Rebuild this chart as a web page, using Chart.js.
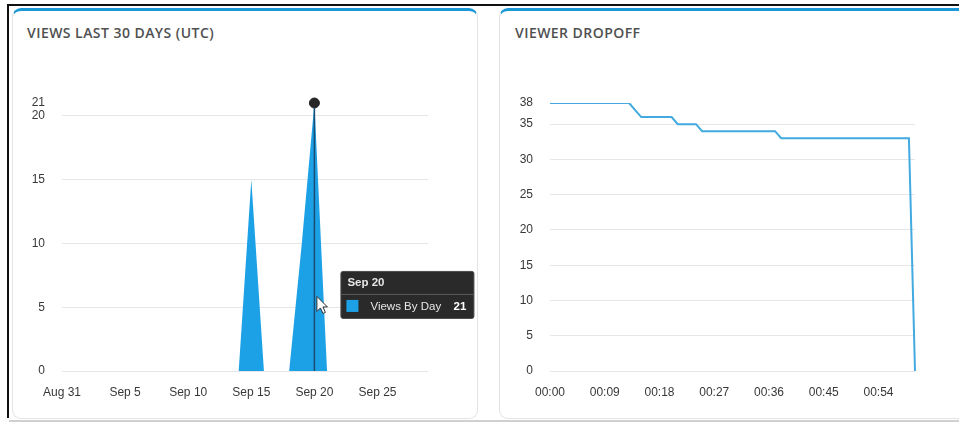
<!DOCTYPE html>
<html>
<head>
<meta charset="utf-8">
<title>Views dashboard</title>
<script src="https://cdn.jsdelivr.net/npm/chart.js@4.4.1/dist/chart.umd.min.js"></script>
<style>
  html, body { margin: 0; padding: 0; background: #fff; }
  body { width: 959px; height: 423px; position: relative; overflow: hidden; font-family: 'Open Sans', Roboto, sans-serif; }
  .frame-top { position: absolute; left: 8px; top: 4px; width: 951px; height: 2px; background: #111; }
  .frame-left { position: absolute; left: 7px; top: 4px; width: 2px; height: 414px; background: #111; }
  .frame-bottom { position: absolute; left: 9px; top: 420px; width: 950px; height: 2px; background: #d0d0d0; }
  .card { position: absolute; top: 8px; height: 411px; background: #fff; border: 1px solid #e3e3e3; border-top: 3px solid #1b98d5; border-radius: 9px; box-sizing: border-box; }
  .card h2 { position: absolute; top: 12px; margin: 0; font-size: 14px; font-weight: 600; letter-spacing: 0.45px; color: #505050; white-space: nowrap; }
  canvas { position: absolute; }
</style>
</head>
<body>
<div class="frame-top"></div>
<div class="frame-left"></div>
<div class="frame-bottom"></div>

<div class="card" style="left:12px; width:466px;"><h2 style="left:14px;">VIEWS LAST 30 DAYS (UTC)</h2></div>
<div class="card" style="left:499px; width:470px;"><h2 style="left:15px;">VIEWER DROPOFF</h2></div>

<canvas id="viewsChart" width="466" height="368" style="left:12px; top:50px;"></canvas>
<canvas id="dropoffChart" width="460" height="368" style="left:499px; top:50px;"></canvas>

<script>
// views per day, Aug 31 - Sep 29
const days = [
  'Aug 31', 'Sep 1', 'Sep 2', 'Sep 3', 'Sep 4', 'Sep 5', 'Sep 6', 'Sep 7', 'Sep 8', 'Sep 9',
  'Sep 10', 'Sep 11', 'Sep 12', 'Sep 13', 'Sep 14', 'Sep 15', 'Sep 16', 'Sep 17', 'Sep 18', 'Sep 19',
  'Sep 20', 'Sep 21', 'Sep 22', 'Sep 23', 'Sep 24', 'Sep 25', 'Sep 26', 'Sep 27', 'Sep 28', 'Sep 29'
]
const views = [
  0, 0, 0, 0, 0, 0, 0, 0, 0, 0,
  0, 0, 0, 0, 0, 15, 0, 0, 0, 10,
  21, 0, 0, 0, 0, 0, 0, 0, 0, 0
]
const viewsTicks = [0, 5, 10, 15, 20, 21]
const hoverDay = 'Sep 20'

// viewers still watching, one value per minute
const viewers = [
  38, 38, 38, 38, 38, 38, 38, 38, 38, 38,
  38, 38, 38, 38, 37, 36, 36, 36, 36, 36,
  36, 35, 35, 35, 35, 34, 34, 34, 34, 34,
  34, 34, 34, 34, 34, 34, 34, 34, 33, 33,
  33, 33, 33, 33, 33, 33, 33, 33, 33, 33,
  33, 33, 33, 33, 33, 33, 33, 33, 33, 33,
  0
]
const viewersTicks = [0, 5, 10, 15, 20, 25, 30, 35, 38]
const minuteTicks = ['00:00', '00:09', '00:18', '00:27', '00:36', '00:45', '00:54']

const tickFont = { family: "'Liberation Sans', Arial, sans-serif", size: 12 }
const tickColor = '#383838'
const gridColor = '#e6e6e6'

function yAxis(tickValues, width) {
  const top = tickValues[tickValues.length - 1]
  return {
    min: 0,
    max: top,
    border: { display: false },
    grid: {
      drawTicks: false,
      color: (c) => (c.tick && c.tick.value === top ? 'rgba(0,0,0,0)' : gridColor)
    },
    ticks: { padding: 17, color: tickColor, font: tickFont },
    afterBuildTicks: (s) => { s.ticks = tickValues.map((v) => ({ value: v })) },
    afterFit: (s) => { s.width = width }
  }
}

function xAxis(labelFor) {
  return {
    grid: { display: false },
    border: { display: false },
    ticks: {
      autoSkip: false,
      maxRotation: 0,
      minRotation: 0,
      padding: 6,
      color: tickColor,
      font: tickFont,
      callback: (v, i) => labelFor(i)
    },
    afterFit: (s) => { s.height = 40 }
  }
}

// hover line, tooltip and pointer on the views chart
const hoverIndex = days.indexOf(hoverDay)
const hoverOverlay = {
  id: 'hoverOverlay',
  afterDatasetsDraw(chart) {
    // the hover line sits on top of the fill
    const pt = chart.getDatasetMeta(0).data[hoverIndex]
    const base = chart.scales.y.getPixelForValue(0)
    const ctx = chart.ctx
    ctx.save()
    ctx.strokeStyle = '#184c74'
    ctx.lineWidth = 1.5
    ctx.beginPath()
    ctx.moveTo(pt.x, pt.y + 5)
    ctx.lineTo(pt.x, base)
    ctx.stroke()
    ctx.restore()
  },
  afterDraw(chart) {
    const pt = chart.getDatasetMeta(0).data[hoverIndex]
    const ctx = chart.ctx
    const w = 133, h = 47
    const left = pt.x + 26
    const top = chart.scales.y.getPixelForValue(6) - h / 2
    ctx.save()
    ctx.fillStyle = '#2a2a2a'
    ctx.strokeStyle = '#4a4a4a'
    ctx.lineWidth = 1
    ctx.beginPath()
    ctx.roundRect(left + 0.5, top + 0.5, w, h, 2)
    ctx.fill()
    ctx.stroke()
    // separator under the title
    ctx.strokeStyle = '#5a5a5a'
    ctx.beginPath()
    ctx.moveTo(left + 1, top + 23.5)
    ctx.lineTo(left + w, top + 23.5)
    ctx.stroke()

    ctx.textBaseline = 'middle'
    ctx.fillStyle = '#e6e6e6'
    ctx.font = "bold 11.5px 'Liberation Sans', Arial, sans-serif"
    ctx.textAlign = 'left'
    ctx.fillText(days[hoverIndex], left + 7, top + 12)

    ctx.fillStyle = '#1da1e6'
    ctx.fillRect(left + 6, top + 29, 12, 12)
    ctx.fillStyle = '#e6e6e6'
    ctx.font = "11.5px 'Liberation Sans', Arial, sans-serif"
    ctx.fillText('Views By Day', left + 30, top + 35.5)
    ctx.font = "bold 11.5px 'Liberation Sans', Arial, sans-serif"
    ctx.textAlign = 'right'
    ctx.fillStyle = '#ffffff'
    ctx.fillText(String(views[hoverIndex]), left + w - 7, top + 35.5)

    // mouse pointer
    const tx = pt.x + 2.5, ty = top + 25.5
    ctx.beginPath()
    ctx.moveTo(tx, ty)
    ctx.lineTo(tx, ty + 15)
    ctx.lineTo(tx + 3.5, ty + 11.5)
    ctx.lineTo(tx + 6, ty + 17)
    ctx.lineTo(tx + 8.5, ty + 16)
    ctx.lineTo(tx + 6, ty + 10.5)
    ctx.lineTo(tx + 10.5, ty + 10.5)
    ctx.closePath()
    ctx.fillStyle = '#ffffff'
    ctx.fill()
    ctx.strokeStyle = '#333'
    ctx.lineWidth = 1
    ctx.stroke()
    ctx.restore()
  }
}

new Chart(document.getElementById('viewsChart'), {
  type: 'line',
  data: {
    labels: days,
    datasets: [{
      label: 'Views By Day',
      data: views,
      fill: 'origin',
      clip: false,
      backgroundColor: '#1da1e6',
      borderWidth: 0,
      tension: 0,
      pointRadius: (c) => (c.dataIndex === hoverIndex ? 5 : 0),
      pointBackgroundColor: '#262626',
      pointBorderColor: '#262626',
      pointBorderWidth: 1
    }]
  },
  options: {
    responsive: false,
    animation: false,
    events: [],
    layout: { padding: { top: 53, right: 50, bottom: 7, left: 0 } },
    plugins: { legend: { display: false }, tooltip: { enabled: false } },
    scales: {
      x: xAxis((i) => (i % 5 === 0 ? days[i] : '')),
      y: yAxis(viewsTicks, 50)
    }
  },
  plugins: [hoverOverlay]
})

new Chart(document.getElementById('dropoffChart'), {
  type: 'line',
  data: {
    labels: viewers.map((v, i) => i),
    datasets: [{
      label: 'Viewers',
      data: viewers,
      fill: false,
      borderColor: '#42aadf',
      borderWidth: 2,
      tension: 0,
      pointRadius: 0
    }]
  },
  options: {
    responsive: false,
    animation: false,
    events: [],
    layout: { padding: { top: 53, right: 44, bottom: 7, left: 0 } },
    plugins: { legend: { display: false }, tooltip: { enabled: false } },
    scales: {
      x: xAxis((i) => (i % 9 === 0 && minuteTicks[i / 9] ? minuteTicks[i / 9] : '')),
      y: yAxis(viewersTicks, 51)
    }
  }
})
</script>
</body>
</html>
